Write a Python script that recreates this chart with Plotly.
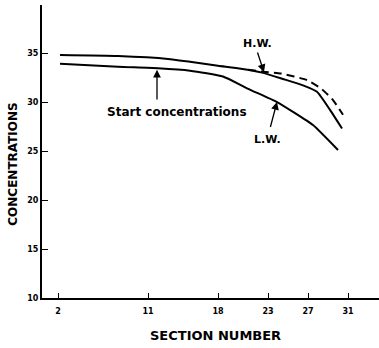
import plotly.graph_objects as go

# Section numbers and concentrations along each profile
upper_sections = [2.2, 8, 13, 15.2, 18, 20.3, 22.4, 24.5, 26.5, 27.9, 29.2, 30.4]
upper_conc = [34.8, 34.7, 34.4, 34.1, 33.7, 33.4, 33.0, 32.35, 31.7, 31.05, 29.2, 27.3]

hw_sections = [21, 22.5, 24.3, 26.9, 28.4, 29.5, 30.5]
hw_conc = [33.3, 33.1, 32.9, 32.24, 31.3, 30.2, 28.7]

lw_sections = [2.2, 8, 12, 15.2, 18.5, 20.9, 23.9, 25.5, 27.5, 30.0]
lw_conc = [33.9, 33.6, 33.45, 33.2, 32.6, 31.4, 30.0, 29.0, 27.65, 25.1]

x_ticks = [2, 11, 18, 23, 27, 31]
y_ticks = [10, 15, 20, 25, 30, 35]

FONT = "DejaVu Sans"
line = dict(color="black", width=2, shape="spline", smoothing=0.5)

fig = go.Figure()
fig.add_trace(go.Scatter(x=upper_sections, y=upper_conc, mode="lines", line=line))
fig.add_trace(go.Scatter(x=hw_sections, y=hw_conc, mode="lines",
                         line=dict(line, dash="8px,5px")))
fig.add_trace(go.Scatter(x=lw_sections, y=lw_conc, mode="lines", line=line))

arrow = dict(showarrow=True, arrowhead=2, arrowsize=1.2, arrowwidth=1.3,
             arrowcolor="black", axref="x", ayref="y", text="")
fig.add_annotation(x=22.6, y=33.05, ax=21.9, ay=35.2, **arrow)
fig.add_annotation(x=23.9, y=30.0, ax=23.2, ay=27.3, **arrow)
fig.add_annotation(x=11.9, y=33.3, ax=11.9, ay=30.1, **arrow)

label_font = dict(family=FONT, size=11, color="black", weight="bold")
fig.add_annotation(x=21.9, y=36.0, text="H.W.", showarrow=False, font=label_font)
fig.add_annotation(x=22.9, y=26.2, text="L.W.", showarrow=False, font=label_font)
fig.add_annotation(x=13.9, y=29.0, text="Start concentrations", showarrow=False,
                   font=dict(label_font, size=12))

fig.add_annotation(x=0.516, y=-0.127, xref="paper", yref="paper",
                   xanchor="center", yanchor="middle",
                   text="SECTION NUMBER", showarrow=False,
                   font=dict(family=FONT, size=13, color="black", weight="bold"))
fig.add_annotation(x=-0.086, y=0.455, xref="paper", yref="paper",
                   xanchor="center", yanchor="middle", textangle=-90,
                   text="CONCENTRATIONS", showarrow=False,
                   font=dict(family=FONT, size=12, color="black", weight="bold"))

tick_font = dict(family=FONT, size=8, color="black", weight="bold")
fig.update_xaxes(range=[0.4, 34.1], tickvals=x_ticks, ticks="inside", ticklen=5,
                 tickwidth=1.3, tickcolor="black", showline=True, linecolor="black",
                 linewidth=2, showgrid=False, zeroline=False, tickfont=tick_font,
                 ticklabelstandoff=4)
fig.update_yaxes(range=[10, 39.9], tickvals=y_ticks, ticks="inside", ticklen=6,
                 tickwidth=1.3, tickcolor="black", showline=True, linecolor="black",
                 linewidth=2, showgrid=False, zeroline=False, tickfont=tick_font)

fig.update_layout(width=379, height=348, margin=dict(l=42, r=0, t=5, b=50),
                  plot_bgcolor="white", paper_bgcolor="white", showlegend=False)

fig.write_html("out.html")
